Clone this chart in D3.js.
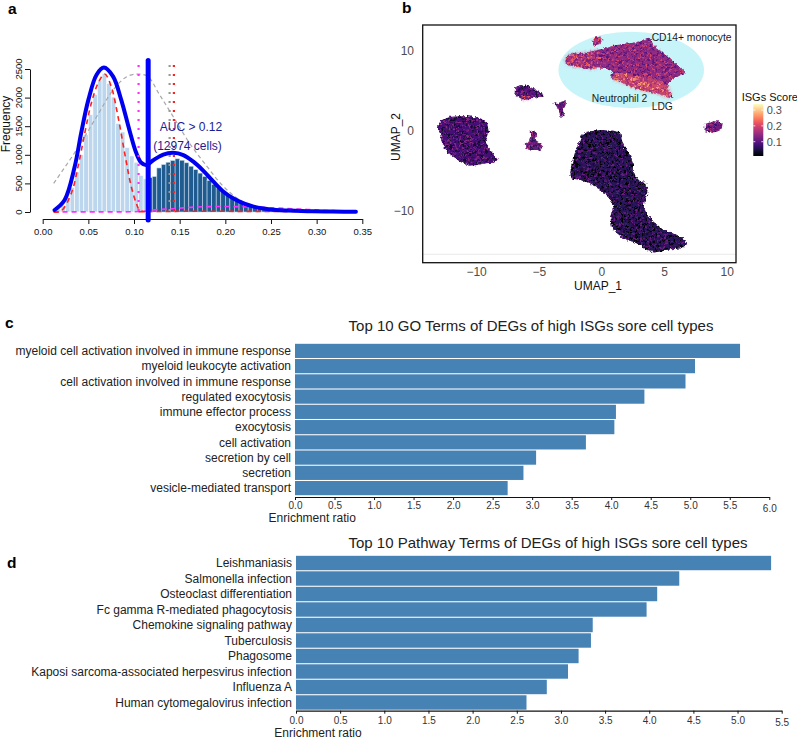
<!DOCTYPE html>
<html>
<head>
<meta charset="utf-8">
<script src="https://cdn.jsdelivr.net/npm/d3@7"></script>
<style>
	body { margin: 0; background: #fff; }
	text { font-family: "Liberation Sans", Arial, sans-serif; }
</style>
</head>
<body>
<div id="wrapper"></div>
<script>
// ---------- panel a : ISG score histogram + mixture fit ----------
const binStart = [0.010,0.015,0.020,0.025,0.030,0.035,0.040,0.045,0.050,0.055,0.060,0.065,0.070,0.075,0.080,0.085,0.090,0.095,0.100,0.105,
	0.110,0.115,0.120,0.125,0.130,0.135,0.140,0.145,0.150,0.155,0.160,0.165,0.170,0.175,0.180,0.185,0.190,0.195,0.200,0.205,
	0.210,0.215,0.220,0.225,0.230,0.235,0.240,0.245,0.250,0.255,0.260,0.265,0.270,0.275,0.280,0.285,0.290,0.295,0.300,0.305,
	0.310,0.315,0.320,0.325,0.330,0.335];
const binCount = [20,50,120,250,430,700,1000,1350,1700,2050,2300,2420,2250,2010,1550,1400,1130,980,870,640,
	580,600,620,770,830,870,900,930,905,860,800,740,680,620,550,480,420,360,300,255,
	215,180,145,115,90,72,56,45,36,30,24,19,15,12,10,8,7,6,5,4,
	4,3,3,2,2,1];
const binWidth = 0.005;
const aucCut = 0.1155;

const densX = [0.013,0.024,0.035,0.042,0.050,0.059,0.067,0.077,0.086,0.095,0.1025,0.108,0.1135,0.121,0.132,0.143,0.154,0.165,0.176,0.187,0.198,0.209,0.220,0.231,0.242,0.256,0.270,0.290,0.310,0.330,0.343];
const densY = [35,210,790,1370,1960,2400,2525,2370,1960,1430,1030,860,820,905,1005,1035,995,880,720,530,355,235,150,95,62,35,25,15,10,6,5];

const greyX = [0.012,0.037,0.059,0.077,0.092,0.104,0.115,0.128,0.143,0.161,0.180,0.198,0.216,0.234,0.253,0.280,0.310,0.343];
const greyY = [500,1085,1665,2130,2365,2410,2370,2050,1665,1200,795,445,210,95,35,10,3,1];

const redX = [0.012,0.020,0.0313,0.0387,0.046,0.0532,0.0606,0.0679,0.0751,0.0825,0.0898,0.097,0.1025,0.106,0.112];
const redY = [2,15,326,793,1375,1900,2250,2413,2190,1667,1026,443,152,35,5];
const red2X = [0.105,0.150,0.200,0.250,0.300,0.343];
const red2Y = [5,12,12,10,6,3];

const pinkX = [0.012,0.060,0.100,0.115,0.121,0.143,0.165,0.190,0.215,0.240,0.265,0.290,0.315,0.343];
const pinkY = [2,2,5,20,35,58,85,95,93,80,62,45,25,8];

const pinkDotX = 0.105;
const greyDotX = 0.139;
const redDotX = 0.1437;
const dotTop = 2570;
const cutTop = 2650;
const cutBottom = -140;

const histXTicks = [0, 0.05, 0.10, 0.15, 0.20, 0.25, 0.30, 0.35];
const histYTicks = [0, 500, 1000, 1500, 2000, 2500];

// ---------- panel b : UMAP ----------
const umapClusters = [
	{ score: 0.145, pts: [[-2.87,9.08],[-2.66,9.5],[-1.99,9.71],[-1.20,9.79],[-0.40,10.13],[0.40,10.42],[1.20,10.75],[2.26,10.96],[2.92,11.17],[3.45,11.38],[3.72,11.67],[3.90,11.46],[4.12,10.75],[4.91,9.71],[5.71,8.67],[6.37,7.83],[6.64,7.29],[6.37,7.0],[5.71,6.58],[5.31,5.96],[5.18,5.33],[5.58,4.5],[5.71,4.17],[5.31,4.17],[4.65,4.58],[3.85,4.88],[3.05,5.13],[2.26,5.63],[1.46,6.13],[0.93,6.46],[0.66,6.96],[0.88,7.42],[0.40,7.75],[-0.40,7.83],[-1.20,7.83],[-1.99,8.04],[-2.66,8.25],[-2.92,8.67]] },
	{ score: 0.17, pts: [[-0.80,11.17],[-0.53,11.71],[-0.13,11.79],[0.05,11.38],[-0.21,10.83],[-0.66,10.67]] },
	{ score: 0.085, pts: [[-13.15,0.75],[-12.75,1.38],[-12.08,1.79],[-10.76,1.88],[-9.69,1.58],[-9.16,0.96],[-9.03,-0.08],[-9.30,-1.13],[-9.03,-2.17],[-8.50,-3.21],[-8.31,-3.63],[-8.63,-3.96],[-9.30,-4.04],[-9.96,-4.25],[-10.62,-4.33],[-11.29,-3.83],[-11.82,-3.21],[-12.35,-2.58],[-12.75,-1.54],[-12.93,-0.29]] },
	{ score: 0.09, pts: [[-6.91,5.46],[-6.51,5.75],[-5.84,5.63],[-5.31,5.13],[-4.78,4.71],[-4.65,4.29],[-5.18,4.21],[-5.71,4.0],[-6.24,3.88],[-6.72,4.29],[-6.96,4.92]] },
	{ score: 0.10, pts: [[-3.90,3.67],[-3.59,3.38],[-3.27,3.63],[-2.79,3.88],[-2.90,3.25],[-3.11,2.54],[-2.97,1.88],[-3.32,1.79],[-3.43,2.5],[-3.64,3.13]] },
	{ score: 0.11, pts: [[-5.76,0.0],[-5.39,0.04],[-5.23,-0.5],[-5.37,-1.04],[-4.97,-1.46],[-4.70,-1.96],[-4.91,-2.38],[-5.44,-2.5],[-5.98,-2.29],[-6.19,-1.79],[-5.84,-1.21],[-5.71,-0.71]] },
	{ score: 0.12, pts: [[8.23,0.88],[8.76,1.17],[9.30,1.21],[9.64,0.96],[9.56,0.33],[9.16,-0.08],[8.63,-0.21],[8.18,0.0]] },
	{ score: 0.06, pts: [[-1.59,-0.5],[-1.20,-0.08],[-0.13,0.13],[0.93,0.04],[1.46,-0.17],[1.59,-1.13],[1.78,-1.96],[2.12,-2.58],[2.31,-3.29],[2.52,-4.04],[2.44,-4.88],[2.66,-5.5],[2.92,-6.13],[3.53,-6.54],[3.72,-7.58],[3.45,-8.42],[3.32,-9.46],[3.59,-10.38],[4.12,-11.33],[4.91,-12.38],[5.71,-12.79],[6.37,-13.29],[6.77,-14.25],[6.24,-14.67],[5.44,-14.79],[4.91,-15.0],[4.12,-15.17],[3.59,-14.88],[3.05,-14.25],[2.52,-13.88],[1.73,-13.42],[1.20,-12.79],[0.80,-11.96],[0.66,-10.71],[0.93,-9.46],[0.53,-8.21],[-0.13,-7.38],[-0.93,-6.54],[-1.73,-6.13],[-2.52,-5.92],[-2.47,-4.46],[-2.26,-3.21],[-1.99,-1.96]] }
];
const umapHot = [
	{ score: 0.175, pts: [[-2.87,9.08],[-2.66,9.5],[-1.99,9.71],[-1.20,9.79],[-0.40,10.13],[-0.13,9.29],[-0.40,7.83],[-1.20,7.83],[-1.99,8.04],[-2.66,8.25],[-2.92,8.67]] },
	{ score: 0.22, pts: [[0.93,7.0],[1.99,7.13],[3.05,6.71],[4.38,6.38],[5.18,5.75],[5.58,4.5],[5.31,4.17],[4.65,4.58],[3.85,4.88],[3.05,5.13],[2.26,5.63],[1.46,6.13],[0.93,6.46]] },
	{ score: 0.17, pts: [[-6.56,4.38],[-5.58,4.42],[-5.71,4.0],[-6.24,3.88]] }
];
const gateEllipse = { cx: 2.34, cy: 7.63, rx: 5.81, ry: 4.79 };
const cellTypeLabels = [
	{ text: "CD14+ monocyte", x: 3.97, y: 11.25 },
	{ text: "Neutrophil 2", x: -0.81, y: 3.63 },
	{ text: "LDG", x: 3.97, y: 2.63 }
];
const umapXTicks = [-10, -5, 0, 5, 10];
const umapYTicks = [-10, 0, 10];
const scoreTicks = [0.1, 0.2, 0.3];
const scoreRange = [0.0098, 0.338];
const faintLineY = -15.41;

// ---------- panel c : GO terms ----------
const goTerms = ["myeloid cell activation involved in immune response", "myeloid leukocyte activation", "cell activation involved in immune response",
	"regulated exocytosis", "immune effector process", "exocytosis", "cell activation", "secretion by cell", "secretion", "vesicle-mediated transport"];
const goRatio = [5.63, 5.06, 4.94, 4.42, 4.06, 4.04, 3.68, 3.05, 2.89, 2.69];
const goTicks = [0, 0.5, 1.0, 1.5, 2.0, 2.5, 3.0, 3.5, 4.0, 4.5, 5.0, 5.5, 6.0];

// ---------- panel d : pathway terms ----------
const pathTerms = ["Leishmaniasis", "Salmonella infection", "Osteoclast differentiation", "Fc gamma R-mediated phagocytosis", "Chemokine signaling pathway",
	"Tuberculosis", "Phagosome", "Kaposi sarcoma-associated herpesvirus infection", "Influenza A", "Human cytomegalovirus infection"];
const pathRatio = [5.38, 4.34, 4.09, 3.97, 3.36, 3.34, 3.20, 3.08, 2.84, 2.61];
const pathTicks = [0, 0.5, 1.0, 1.5, 2.0, 2.5, 3.0, 3.5, 4.0, 4.5, 5.0, 5.5];


function drawFigure() {
	const svg = d3.select("#wrapper").append("svg")
		.attr("width", 797)
		.attr("height", 740);

	const defs = svg.append("defs");

	// panel letters
	const letters = [["a", 8, 13.5], ["b", 402, 13], ["c", 5, 328], ["d", 7, 568]];
	svg.selectAll("text.letter").data(letters).join("text")
		.attr("class", "letter")
		.attr("x", d => d[1])
		.attr("y", d => d[2])
		.attr("font-size", 15.5)
		.attr("font-weight", "bold")
		.text(d => d[0]);

	drawHistogram(svg);
	drawUmap(svg, defs);

	drawBars(svg, goTerms, goRatio, goTicks, {
		x0: 295, x1: 769.3, top: 343.5, bottom: 495.5, axisY: 497, tickY: 5, lastTickY: 7.5,
		title: "Top 10 GO Terms of DEGs of high ISGs sore cell types", titleX: 531, titleY: 331,
		labelX: 268.6, labelY: 521.5
	});
	drawBars(svg, pathTerms, pathRatio, pathTicks, {
		x0: 296, x1: 781.7, top: 555.5, bottom: 710, axisY: 710.7, tickY: 6, lastTickY: 8,
		title: "Top 10 Pathway Terms of DEGs of high ISGs sore cell types", titleX: 548, titleY: 548,
		labelX: 274.3, labelY: 737
	});
}

function drawHistogram(svg) {
	const xScale = d3.scaleLinear().domain([0, 0.35]).range([42.7, 362.3]);
	const yScale = d3.scaleLinear().domain([0, 2500]).range([212, 69]);
	const g = svg.append("g");

	g.selectAll("rect.bin").data(binStart).join("rect")
		.attr("class", "bin")
		.attr("x", d => xScale(d))
		.attr("width", d => xScale(d + binWidth) - xScale(d))
		.attr("y", (d, i) => yScale(binCount[i]))
		.attr("height", (d, i) => yScale(0) - yScale(binCount[i]))
		.attr("fill", d => d + binWidth > aucCut ? "#1f5b8e" : "#bcd6ee")
		.attr("stroke", d => d + binWidth > aucCut ? "#c9dcee" : "#ffffff")
		.attr("stroke-width", 0.6);

	const line = (xs, ys) => d3.line()
		.x((d, i) => xScale(xs[i]))
		.y((d, i) => yScale(ys[i]))
		.curve(d3.curveCatmullRom)(xs);

	g.append("path")
		.attr("d", line(greyX, greyY))
		.attr("fill", "none")
		.attr("stroke", "#a8a8a8")
		.attr("stroke-width", 1.2)
		.attr("stroke-dasharray", "4,3");

	g.append("path")
		.attr("d", line(pinkX, pinkY))
		.attr("fill", "none")
		.attr("stroke", "#ff30ff")
		.attr("stroke-width", 1.6)
		.attr("stroke-dasharray", "5,4");

	g.append("path")
		.attr("d", line(red2X, red2Y))
		.attr("fill", "none")
		.attr("stroke", "#ff2020")
		.attr("stroke-width", 1.6)
		.attr("stroke-dasharray", "5,4");

	g.append("path")
		.attr("d", line(redX, redY))
		.attr("fill", "none")
		.attr("stroke", "#ff2020")
		.attr("stroke-width", 1.6)
		.attr("stroke-dasharray", "5,4");

	g.append("path")
		.attr("d", line(densX, densY))
		.attr("fill", "none")
		.attr("stroke", "#0000f0")
		.attr("stroke-width", 4)
		.attr("stroke-linecap", "round");

	const dotted = [[pinkDotX, "#ff30ff"], [greyDotX, "#9a9a9a"], [redDotX, "#ff2020"]];
	g.selectAll("line.dot").data(dotted).join("line")
		.attr("x1", d => xScale(d[0]))
		.attr("x2", d => xScale(d[0]))
		.attr("y1", yScale(dotTop))
		.attr("y2", yScale(0))
		.attr("stroke", d => d[1])
		.attr("stroke-width", 2.2)
		.attr("stroke-dasharray", "2,7");

	g.append("line")
		.attr("x1", xScale(aucCut))
		.attr("x2", xScale(aucCut))
		.attr("y1", yScale(cutTop))
		.attr("y2", yScale(cutBottom))
		.attr("stroke", "#0000ff")
		.attr("stroke-width", 5)
		.attr("stroke-linecap", "round");

	g.append("text")
		.attr("x", 191)
		.attr("y", 131)
		.attr("text-anchor", "middle")
		.attr("font-size", 12)
		.attr("fill", "#1c1c96")
		.text("AUC > 0.12");
	g.append("text")
		.attr("x", 187.5)
		.attr("y", 150)
		.attr("text-anchor", "middle")
		.attr("font-size", 12)
		.attr("fill", "#1c1c96")
		.text("(12974 cells)");

	// axes, R style
	const xAxis = g.append("g")
		.attr("transform", "translate(0,219)")
		.call(d3.axisBottom(xScale).tickValues(histXTicks).tickSize(5).tickSizeOuter(0).tickFormat(d3.format(".2f")));
	xAxis.select(".domain").attr("stroke", "#111");
	xAxis.selectAll(".tick line").attr("stroke", "#111");
	xAxis.selectAll("text").attr("font-size", 9.5).attr("fill", "#111").attr("font-family", null).attr("y", 9);

	const yAxis = g.append("g")
		.attr("transform", "translate(30,0)")
		.call(d3.axisLeft(yScale).tickValues(histYTicks).tickSize(5).tickSizeOuter(0).tickFormat(""));
	yAxis.select(".domain").attr("stroke", "#111");
	yAxis.selectAll(".tick line").attr("stroke", "#111");
	g.selectAll("text.ylab").data(histYTicks).join("text")
		.attr("class", "ylab")
		.attr("transform", d => `translate(21.5,${yScale(d)}) rotate(-90)`)
		.attr("text-anchor", "middle")
		.attr("font-size", 9.5)
		.attr("fill", "#111")
		.text(d => d);

	g.append("text")
		.attr("transform", "translate(9.5,124) rotate(-90)")
		.attr("text-anchor", "middle")
		.attr("font-size", 12)
		.attr("fill", "#111")
		.text("Frequency");
}

function drawUmap(svg, defs) {
	const box = { left: 422.7, right: 736, top: 25, bottom: 262.7 };
	const xScale = d3.scaleLinear().domain([-14.3, 10.7]).range([box.left, box.right]);
	const yScale = d3.scaleLinear().domain([-16.46, 13.25]).range([box.bottom, box.top]);
	const color = d3.scaleSequential(d3.interpolateMagma).domain(scoreRange);
	const clampScore = s => Math.max(scoreRange[0], Math.min(scoreRange[1], s));

	// speckle masks (texture of the dense cell cloud) and rough cluster edges
	const noise = [["fLight", "mLight", 5], ["fDark", "mDark", 11]];
	noise.forEach(n => {
		const f = defs.append("filter").attr("id", n[0])
			.attr("x", 0).attr("y", 0).attr("width", 1).attr("height", 1);
		f.append("feTurbulence")
			.attr("type", "fractalNoise")
			.attr("baseFrequency", 0.42)
			.attr("numOctaves", 2)
			.attr("seed", n[2]);
		f.append("feColorMatrix")
			.attr("type", "matrix")
			.attr("values", "0 0 0 0 1  0 0 0 0 1  0 0 0 0 1  6 0 0 0 -3.1");
		defs.append("mask").attr("id", n[1])
			.attr("maskUnits", "userSpaceOnUse")
			.attr("x", box.left).attr("y", box.top)
			.attr("width", box.right - box.left).attr("height", box.bottom - box.top)
			.append("rect")
			.attr("x", box.left).attr("y", box.top)
			.attr("width", box.right - box.left).attr("height", box.bottom - box.top)
			.attr("fill", "white")
			.attr("filter", `url(#${n[0]})`);
	});
	const rough = defs.append("filter").attr("id", "rough")
		.attr("x", "-0.05").attr("y", "-0.05").attr("width", "1.1").attr("height", "1.1");
	rough.append("feTurbulence")
		.attr("type", "fractalNoise")
		.attr("baseFrequency", 0.4)
		.attr("numOctaves", 2)
		.attr("seed", 3)
		.attr("result", "t");
	rough.append("feDisplacementMap")
		.attr("in", "SourceGraphic")
		.attr("in2", "t")
		.attr("scale", 4)
		.attr("xChannelSelector", "R")
		.attr("yChannelSelector", "G");
	const soft = defs.append("filter").attr("id", "soft")
		.attr("x", "-0.1").attr("y", "-0.1").attr("width", "1.2").attr("height", "1.2");
	soft.append("feGaussianBlur").attr("stdDeviation", 1.8);

	const g = svg.append("g");

	g.append("line")
		.attr("x1", box.left).attr("x2", box.right)
		.attr("y1", yScale(faintLineY)).attr("y2", yScale(faintLineY))
		.attr("stroke", "#e4e4e4")
		.attr("stroke-width", 0.8);

	g.append("ellipse")
		.attr("cx", xScale(gateEllipse.cx))
		.attr("cy", yScale(gateEllipse.cy))
		.attr("rx", xScale(gateEllipse.rx) - xScale(0))
		.attr("ry", yScale(0) - yScale(gateEllipse.ry))
		.attr("fill", "#c6f4f8");

	const poly = d3.line().x(d => xScale(d[0])).y(d => yScale(d[1])).curve(d3.curveLinearClosed);
	const cells = g.append("g").attr("filter", "url(#rough)");

	// base colour of every cluster, then the warmer sub-regions, then the grain
	cells.selectAll("path.base").data(umapClusters).join("path")
		.attr("class", "base")
		.attr("d", d => poly(d.pts))
		.attr("fill", d => color(d.score));
	cells.append("g").attr("filter", "url(#soft)")
		.selectAll("path").data(umapHot).join("path")
		.attr("d", d => poly(d.pts))
		.attr("fill", d => color(d.score))
		.attr("opacity", 0.7);
	const grain = cells.append("g");
	umapClusters.concat(umapHot).forEach(s => {
		grain.append("path").attr("d", poly(s.pts))
			.attr("fill", color(clampScore(s.score + 0.055))).attr("mask", "url(#mLight)");
		grain.append("path").attr("d", poly(s.pts))
			.attr("fill", color(clampScore(s.score - 0.05))).attr("mask", "url(#mDark)");
	});

	g.selectAll("text.cell").data(cellTypeLabels).join("text")
		.attr("class", "cell")
		.attr("x", d => xScale(d.x))
		.attr("y", d => yScale(d.y))
		.attr("font-size", 10.3)
		.attr("fill", "#1a1a1a")
		.text(d => d.text);

	g.append("rect")
		.attr("x", box.left).attr("y", box.top)
		.attr("width", box.right - box.left).attr("height", box.bottom - box.top)
		.attr("fill", "none")
		.attr("stroke", "#111")
		.attr("stroke-width", 1.3);

	g.selectAll("text.ux").data(umapXTicks).join("text")
		.attr("class", "ux")
		.attr("x", d => xScale(d))
		.attr("y", 276)
		.attr("text-anchor", "middle")
		.attr("font-size", 12)
		.attr("fill", "#4d4d4d")
		.text(d => d < 0 ? "\u2212" + Math.abs(d) : d);
	g.selectAll("text.uy").data(umapYTicks).join("text")
		.attr("class", "uy")
		.attr("x", 414)
		.attr("y", d => yScale(d))
		.attr("dy", "0.35em")
		.attr("text-anchor", "end")
		.attr("font-size", 12)
		.attr("fill", "#4d4d4d")
		.text(d => d < 0 ? "\u2212" + Math.abs(d) : d);

	g.append("text")
		.attr("x", 598).attr("y", 290)
		.attr("text-anchor", "middle")
		.attr("font-size", 12)
		.attr("fill", "#111")
		.text("UMAP_1");
	g.append("text")
		.attr("transform", "translate(400,137) rotate(-90)")
		.attr("text-anchor", "middle")
		.attr("font-size", 12)
		.attr("fill", "#111")
		.text("UMAP_2");

	// colour bar legend
	const legY = d3.scaleLinear().domain(scoreRange).range([156, 104]);
	const grad = defs.append("linearGradient").attr("id", "magmaBar")
		.attr("x1", 0).attr("y1", 1).attr("x2", 0).attr("y2", 0);
	grad.selectAll("stop").data(d3.range(0, 1.0001, 0.05)).join("stop")
		.attr("offset", d => d)
		.attr("stop-color", d => d3.interpolateMagma(d));

	g.append("text")
		.attr("x", 741.7).attr("y", 100.5)
		.attr("font-size", 11)
		.attr("fill", "#111")
		.text("ISGs Score");
	g.append("rect")
		.attr("x", 753.3).attr("y", legY(scoreRange[1]))
		.attr("width", 10).attr("height", legY(scoreRange[0]) - legY(scoreRange[1]))
		.attr("fill", "url(#magmaBar)");
	scoreTicks.forEach(t => {
		g.append("line").attr("x1", 753.3).attr("x2", 755.3)
			.attr("y1", legY(t)).attr("y2", legY(t)).attr("stroke", "#fff").attr("stroke-width", 0.8);
		g.append("line").attr("x1", 761.3).attr("x2", 763.3)
			.attr("y1", legY(t)).attr("y2", legY(t)).attr("stroke", "#fff").attr("stroke-width", 0.8);
	});
	g.selectAll("text.leg").data(scoreTicks).join("text")
		.attr("class", "leg")
		.attr("x", 766.7)
		.attr("y", d => legY(d))
		.attr("dy", "0.35em")
		.attr("font-size", 11)
		.attr("fill", "#4d4d4d")
		.text(d => d.toFixed(1));
}

function drawBars(svg, terms, ratio, ticks, o) {
	const xScale = d3.scaleLinear().domain([0, ticks[ticks.length - 1]]).range([o.x0, o.x1]);
	const yScale = d3.scaleBand().domain(terms).range([o.top, o.bottom]).paddingInner(0.07).paddingOuter(0.02);
	const g = svg.append("g");

	g.append("text")
		.attr("x", o.titleX).attr("y", o.titleY)
		.attr("text-anchor", "middle")
		.attr("font-size", 15)
		.attr("fill", "#222")
		.text(o.title);

	g.selectAll("rect").data(terms).join("rect")
		.attr("x", xScale(0))
		.attr("y", d => yScale(d))
		.attr("width", (d, i) => xScale(ratio[i]) - xScale(0))
		.attr("height", yScale.bandwidth())
		.attr("fill", "#4682b4");

	g.selectAll("text.term").data(terms).join("text")
		.attr("class", "term")
		.attr("x", xScale(0) - 4)
		.attr("y", d => yScale(d) + yScale.bandwidth() / 2)
		.attr("dy", "0.35em")
		.attr("text-anchor", "end")
		.attr("font-size", 12)
		.attr("fill", "#222")
		.text(d => d);

	const axis = g.append("g")
		.attr("transform", `translate(0,${o.axisY})`)
		.call(d3.axisBottom(xScale).tickValues(ticks).tickSize(3).tickSizeOuter(0).tickFormat(d3.format(".1f")));
	axis.select(".domain").attr("stroke", "#111").attr("stroke-width", 1.2);
	axis.selectAll(".tick line").attr("stroke", "#111");
	axis.selectAll("text")
		.attr("font-family", null)
		.attr("font-size", 10)
		.attr("fill", "#333")
		.attr("y", (d, i) => i === ticks.length - 1 ? o.lastTickY : o.tickY);

	g.append("text")
		.attr("x", o.labelX).attr("y", o.labelY)
		.attr("font-size", 12)
		.attr("fill", "#222")
		.text("Enrichment ratio");
}

drawFigure();
</script>
</body>
</html>
